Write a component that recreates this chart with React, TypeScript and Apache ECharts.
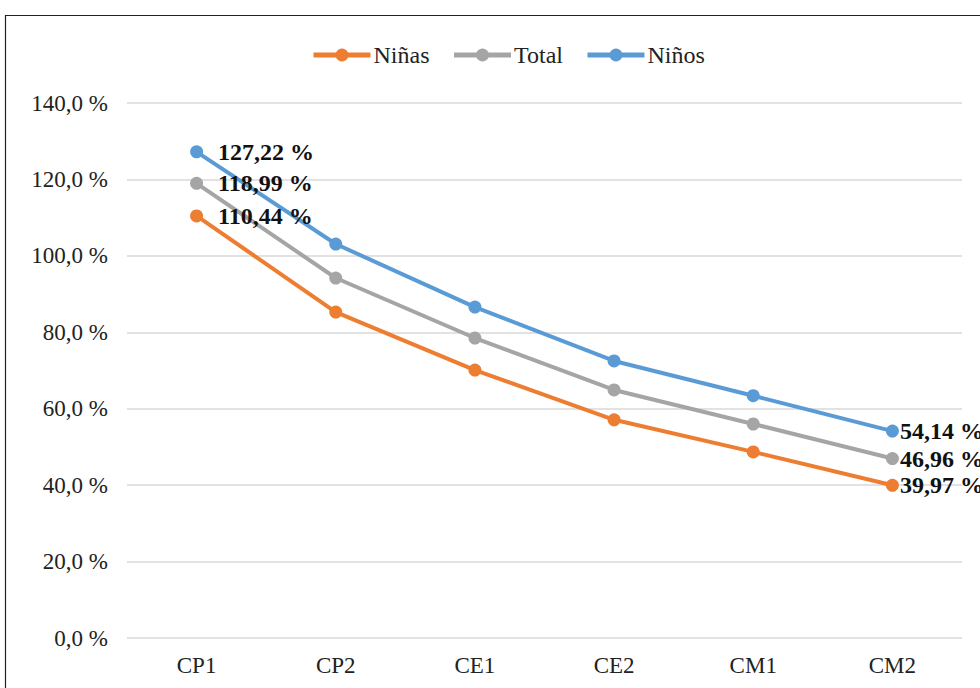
import React, { useEffect, useRef } from "react";
import * as echarts from "echarts";

const categories = ["CP1", "CP2", "CE1", "CE2", "CM1", "CM2"];
const ninas = [110.44, 85.3, 70.1, 57.1, 48.7, 39.97];
const total = [118.99, 94.2, 78.5, 64.9, 56.0, 46.96];
const ninos = [127.22, 103.1, 86.6, 72.5, 63.4, 54.14];
const seriesNames = ["Niñas", "Total", "Niños"];
const seriesColors = ["#ED7D31", "#A5A5A5", "#5B9BD5"];

const FONT = "Liberation Serif";

function fmtPct(v: number, digits: number) {
  return v.toFixed(digits).replace(".", ",") + " %";
}

export default function App() {
  const ref = useRef<HTMLDivElement>(null);
  useEffect(() => {
    if (!ref.current) return;
    const chart = echarts.init(ref.current, undefined, { renderer: "svg" });
    const datas = [ninas, total, ninos];
    const last = categories.length - 1;
    const labelBase = {
      fontFamily: FONT,
      fontSize: 24,
      fontWeight: "bold",
      color: "#111",
      position: "right",
    };
    chart.setOption({
      animation: false,
      backgroundColor: "#ffffff",
      graphic: [
        {
          type: "rect",
          shape: { x: 5.5, y: 15.5, width: 1000, height: 700 },
          style: { fill: "none", stroke: "#222", lineWidth: 1.2 },
          silent: true,
        },
      ],
      legend: {
        top: 38,
        left: 306,
        itemWidth: 57,
        itemHeight: 16,
        itemGap: 22,
        lineStyle: { width: 5 },
        textStyle: { fontFamily: FONT, fontSize: 24, color: "#222", padding: [0, 0, 0, -2] },
        data: seriesNames,
      },
      grid: { left: 127, right: 18, top: 103, bottom: 50, containLabel: false },
      xAxis: {
        type: "category",
        data: categories,
        boundaryGap: true,
        axisLine: { show: false },
        axisTick: { show: false },
        axisLabel: { fontFamily: FONT, fontSize: 23, color: "#222", margin: 16 },
      },
      yAxis: {
        type: "value",
        min: 0,
        max: 140,
        interval: 20,
        axisLine: { show: false },
        axisTick: { show: false },
        axisLabel: {
          fontFamily: FONT,
          fontSize: 23,
          color: "#222",
          margin: 19,
          formatter: (v: number) => fmtPct(v, 1),
        },
        splitLine: { lineStyle: { color: "#d9d9d9", width: 1.5 } },
      },
      series: datas.map((d, i) => ({
        name: seriesNames[i],
        type: "line",
        data: d.map((v, j) => ({
          value: v,
          label:
            j === 0
              ? { ...labelBase, show: true, distance: 15, formatter: fmtPct(v, 2) }
              : j === last
              ? { ...labelBase, show: true, distance: 1, formatter: fmtPct(v, 2) }
              : { show: false },
        })),
        symbol: "circle",
        symbolSize: 13,
        lineStyle: { width: 4, color: seriesColors[i] },
        itemStyle: { color: seriesColors[i] },
      })),
    });
    return () => chart.dispose();
  }, []);
  return (
    <div
      ref={ref}
      style={{ position: "fixed", left: 0, top: 0, width: 980, height: 688 }}
    />
  );
}
